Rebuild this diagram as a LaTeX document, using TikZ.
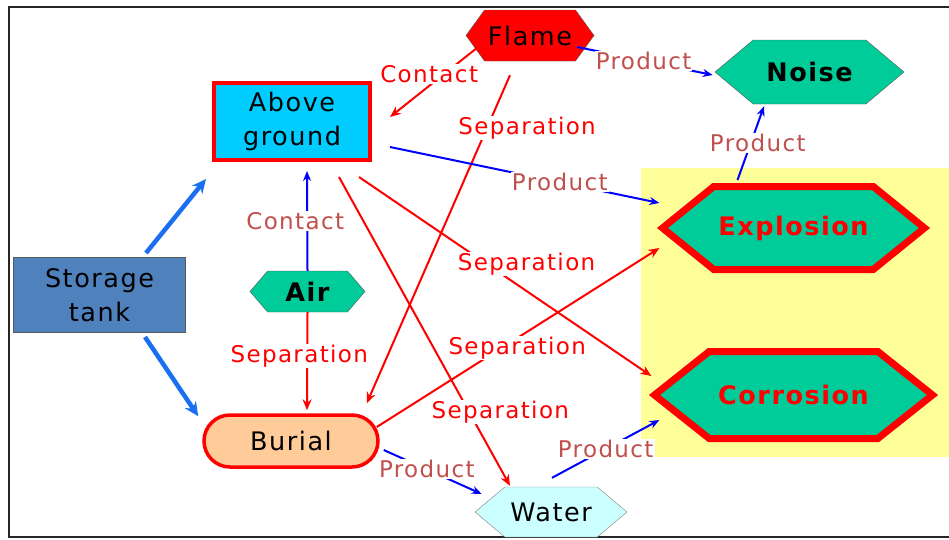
\documentclass[tikz,border=0pt]{standalone}
\usepackage{fontspec}
\setmainfont{DejaVu Sans}[LetterSpace=6]
\usetikzlibrary{shapes.symbols,arrows.meta}
\definecolor{tankblue}{HTML}{4F81BD}
\definecolor{groundcyan}{HTML}{00CCFF}
\definecolor{hexgreen}{HTML}{00CC99}
\definecolor{burialpeach}{HTML}{FFCC99}
\definecolor{waterpale}{HTML}{CCFFFF}
\definecolor{zoneyellow}{HTML}{FFFF99}
\definecolor{lblbrown}{HTML}{C0504D}
\definecolor{bigblue}{HTML}{1A6EF0}
\newcommand\diagfont{\fontsize{25.5}{34}\selectfont}
\newcommand\edgefont{\fontsize{23}{26}\selectfont}
\begin{document}
\begin{tikzpicture}[x=1pt, y=-1pt,
        hexa/.style={signal, signal to=west and east, draw=black!65, fill=hexgreen,
            inner sep=0pt, font=\diagfont},
        hot/.style={hexa, draw=red, line width=7pt, font=\diagfont\bfseries, text=red},
        lbl/.style={fill=white, inner sep=1pt, font=\edgefont, text=red},
        prod/.style={lbl, text=lblbrown},
        redarrow/.style={draw=red, line width=2pt, -{Stealth[length=11pt,width=9pt]}},
        bluearrow/.style={draw=blue, line width=2pt, -{Stealth[length=10pt,width=8pt]}},
        bigarrow/.style={draw=bigblue, line width=4.5pt, -{Stealth[length=14pt,width=13pt]}}]
        \useasboundingbox (0,0) rectangle (949,539);
        \fill[white] (0,0) rectangle (949,539);
        \fill[zoneyellow] (641,168) rectangle (949,457);
        \draw[line width=2pt, black!85] (949,7) -- (9,7) -- (9,537) -- (949,537);

        \node[draw=black!65, line width=1pt, fill=tankblue, minimum width=172pt, minimum height=75pt,
            inner sep=0pt, align=center, font=\diagfont] (tank) at (99.5,295) {Storage\\tank};
        \node[draw=red, line width=4pt, fill=groundcyan, minimum width=156pt, minimum height=77pt,
            inner sep=0pt, align=center, font=\diagfont] (above) at (292,121.5) {Above\\ground};
        \node[draw=red, line width=3.5pt, fill=burialpeach, rounded corners=26pt, minimum width=174pt,
            minimum height=52pt, inner sep=0pt, font=\diagfont] (burial) at (291,441) {Burial};
        \node[hexa, font=\diagfont\bfseries, signal pointer angle=99, minimum width=115pt,
            minimum height=41pt] (air) at (307.5,291.5) {Air};
        \node[hexa, fill=red, signal pointer angle=108, minimum width=128pt,
            minimum height=51pt] (flame) at (530,35.5) {Flame};
        \node[hexa, font=\diagfont\bfseries, signal pointer angle=80, minimum width=189pt,
            minimum height=64pt] (noise) at (809.5,72) {Noise};
        \node[hot, signal pointer angle=78, minimum width=262pt, minimum height=83pt]
            (explosion) at (793.5,228) {Explosion};
        \node[hot, signal pointer angle=77, minimum width=278pt, minimum height=87pt]
            (corrosion) at (793.5,395) {Corrosion};
        \node[hexa, fill=waterpale, draw=black!50, signal pointer angle=80, minimum width=152pt,
            minimum height=50pt] (water) at (551,512) {Water};

        % storage tank
        \draw[bigarrow] ([xshift=46.5pt,yshift=4pt]tank.north) -- ([xshift=-6pt,yshift=-17pt]above.south west);
        \draw[bigarrow] ([xshift=45.5pt,yshift=-4pt]tank.south) -- ([xshift=-4pt,yshift=-3pt]burial.north west);

        % air
        \draw[bluearrow] (air.north) -- node[prod, pos=0.5, xshift=-12pt] (c1) {Contact}
            ([xshift=15pt,yshift=-9pt]above.south);
        \draw[redarrow] (air.south) -- node[lbl, pos=0.45, xshift=-8pt] (s1) {Separation}
            ([xshift=16pt,yshift=3pt]burial.north);

        % flame
        \draw[redarrow] ([xshift=-50pt,yshift=-10pt]flame.center) -- node[lbl, pos=0.565, yshift=12pt] (c2) {Contact}
            ([xshift=18pt,yshift=4.5pt]above.east);
        \draw[redarrow] ([xshift=-20pt,yshift=-14pt]flame.south) -- node[lbl, pos=0.16, xshift=40pt] (s2) {Separation}
            ([xshift=-13pt,yshift=10pt]burial.north east);
        \draw[bluearrow] ([xshift=-17pt,yshift=-11.5pt]flame.east) -- node[prod, pos=0.49] (p1) {Product}
            ([xshift=-2pt,yshift=-3pt]noise.west);

        % above ground
        \draw[bluearrow] ([xshift=18pt,yshift=-25.5pt]above.east) -- node[prod, pos=0.63] (p2) {Product}
            ([xshift=2.5pt,yshift=25pt]explosion.west);
        \draw[redarrow] ([xshift=-13pt,yshift=-15pt]above.south east) -- node[lbl, pos=0.438, xshift=39.5pt] (s3) {Separation}
            ([xshift=2.5pt,yshift=19pt]corrosion.west);
        \draw[redarrow] ([xshift=47pt,yshift=-15pt]above.south) -- node[lbl, pos=0.762, xshift=31pt] (s4) {Separation}
            ([xshift=-41pt,yshift=1pt]water.north);

        % burial
        \draw[redarrow] ([xshift=-3pt,yshift=14pt]burial.east) -- node[lbl, pos=0.497, yshift=-10pt] (s5) {Separation}
            ([xshift=2.5pt,yshift=-20pt]explosion.west);
        \draw[bluearrow] ([xshift=4pt,yshift=-9pt]burial.east) -- node[prod, pos=0.44] (p3) {Product}
            ([xshift=7pt,yshift=18pt]water.west);

        % products
        \draw[bluearrow] ([xshift=1pt,yshift=9pt]water.north) -- node[prod, pos=0.5] (p4) {Product}
            ([xshift=10.5pt,yshift=-25pt]corrosion.west);
        \draw[bluearrow] ([xshift=-56pt,yshift=3pt]explosion.north) -- node[prod, pos=0.5, xshift=7pt] (p5) {Product}
            ([xshift=-45.5pt,yshift=-2pt]noise.south);
    \end{tikzpicture}
\end{document}
